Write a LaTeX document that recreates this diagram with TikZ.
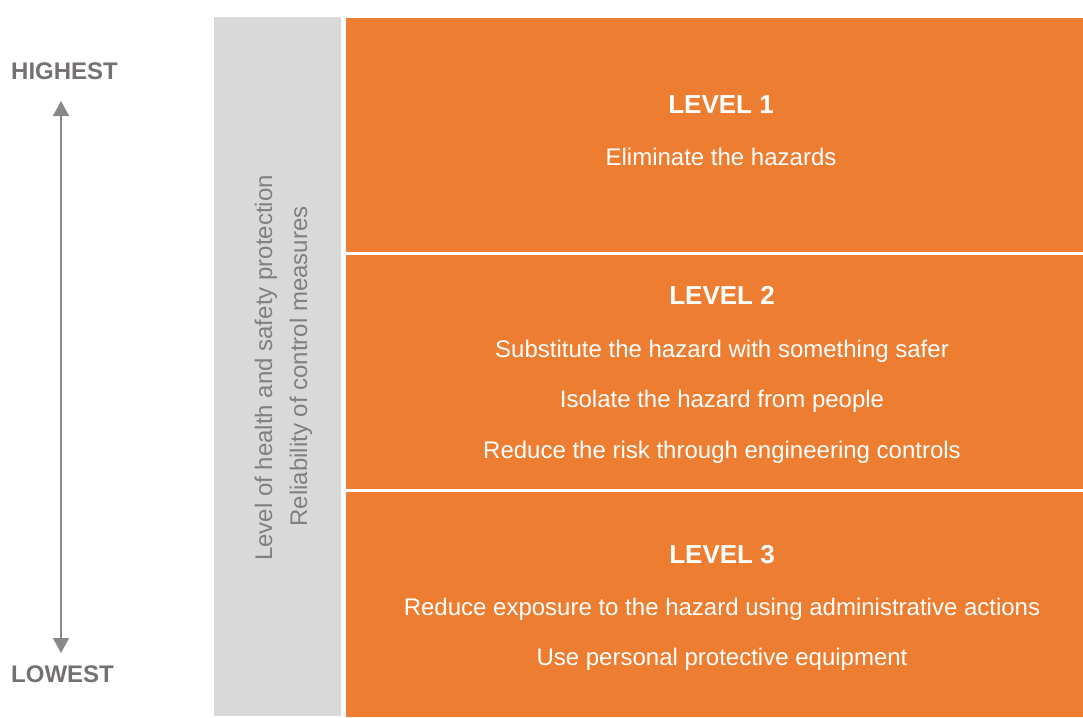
\documentclass[tikz,border=0pt]{standalone}
\usepackage{fontspec}
\setmainfont{Liberation Sans}
\usetikzlibrary{arrows.meta}
\definecolor{hazorange}{HTML}{ED7D31}
\definecolor{barg}{HTML}{D9D9D9}
\definecolor{sidetext}{HTML}{808080}
\definecolor{endtext}{HTML}{767171}
\definecolor{arrowg}{HTML}{888888}
\tikzset{
  levelbox/.style={fill=hazorange, draw=none},
  head/.style={text=white, anchor=base, inner sep=0pt, font=\fontsize{26}{30}\selectfont\bfseries},
  item/.style={text=white, anchor=base, inner sep=0pt, font=\fontsize{24}{28}\selectfont},
  endlabel/.style={text=endtext, anchor=base west, inner sep=0pt, font=\fontsize{24}{28}\selectfont\bfseries},
  sidelabel/.style={text=sidetext, anchor=base, rotate=90, inner sep=0pt, font=\fontsize{24}{28}\selectfont},
  scalearrow/.style={draw=arrowg, line width=1.5pt, {Triangle[width=16pt,length=15pt]}-{Triangle[width=16pt,length=15pt]}}
}
\begin{document}
\begin{tikzpicture}[x=1pt,y=1pt]
\useasboundingbox (0,0) rectangle (1083,-717);
\fill[white] (0,0) rectangle (1083,-717);
% grey bar
\fill[barg] (214,-17) rectangle (341,-716);
% level boxes
\fill[levelbox] (346,-18) rectangle (1083,-252);
\fill[levelbox] (346,-255) rectangle (1083,-489);
\fill[levelbox] (346,-492) rectangle (1083,-717);
% side labels
\node[sidelabel] (lvl) at (272,-368) {Level of health and safety protection};
\node[sidelabel] (rel) at (307,-366.5) {Reliability of control measures};
% ends
\node[endlabel] (hi) at (11,-79) {HIGHEST};
\node[endlabel] (lo) at (11,-682) {LOWEST};
\coordinate (atop) at (61,-101);
\coordinate (abot) at (61,-653);
\draw[scalearrow] (atop) -- (abot);
% level 1
\node[head] (l1) at (721,-113) {LEVEL 1};
\node[item] (l1a) at (721,-165) {Eliminate the hazards};
% level 2
\node[head] (l2) at (722,-304) {LEVEL 2};
\node[item] (l2a) at (722,-357) {Substitute the hazard with something safer};
\node[item] (l2b) at (722,-407) {Isolate the hazard from people};
\node[item] (l2c) at (722,-458) {Reduce the risk through engineering controls};
% level 3
\node[head] (l3) at (722,-563) {LEVEL 3};
\node[item] (l3a) at (722,-615) {Reduce exposure to the hazard using administrative actions};
\node[item] (l3b) at (722,-665) {Use personal protective equipment};
\end{tikzpicture}
\end{document}
